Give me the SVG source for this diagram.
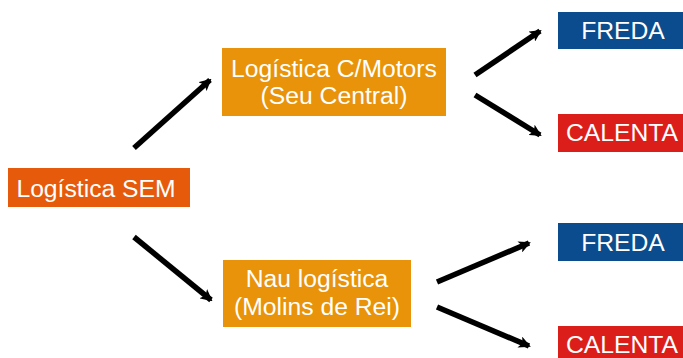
<svg xmlns="http://www.w3.org/2000/svg" width="683" height="358" viewBox="0 0 683 358">
<defs>
<style>
.t{font-family:"Liberation Sans",Arial,sans-serif;font-size:24.7px;fill:#fff}
.c{stroke:#000;stroke-width:5.5;fill:none;marker-end:url(#ah)}
</style>
<marker id="ah" markerUnits="userSpaceOnUse" viewBox="0 0 12 12" refX="10" refY="6" markerWidth="12" markerHeight="12" orient="auto">
<path d="M0,0 L12,6 L0,12 L3,6 Z" fill="#000"/>
</marker>
</defs>
<rect width="683" height="358" fill="#fff"/>
<g id="connectors">
<line class="c" x1="134" y1="148" x2="210" y2="80"/>
<line class="c" x1="134" y1="237" x2="211" y2="300"/>
<line class="c" x1="475" y1="75" x2="540" y2="31"/>
<line class="c" x1="475" y1="95" x2="540" y2="135"/>
<line class="c" x1="437" y1="282" x2="529" y2="243"/>
<line class="c" x1="437" y1="307" x2="529" y2="346"/>
</g>
<g id="sem">
<rect x="8" y="168" width="182" height="39" fill="#E65A0C"/>
<text class="t" x="96" y="197" text-anchor="middle">Logística SEM</text>
</g>
<g id="cmotors">
<rect x="222" y="48" width="224" height="68" fill="#E8930A"/>
<text class="t" x="334" y="77" text-anchor="middle">Logística C/Motors</text>
<text class="t" x="334" y="104" text-anchor="middle">(Seu Central)</text>
</g>
<g id="nau">
<rect x="223" y="260" width="188" height="67" fill="#E8930A"/>
<text class="t" x="317" y="287" text-anchor="middle">Nau logística</text>
<text class="t" x="317" y="315" text-anchor="middle">(Molins de Rei)</text>
</g>
<g id="freda1">
<rect x="558" y="12" width="130" height="37" fill="#0B4C8E"/>
<text class="t" x="623" y="39" text-anchor="middle">FREDA</text>
</g>
<g id="calenta1">
<rect x="558" y="114" width="130" height="38" fill="#DC1E1B"/>
<text class="t" x="566" y="141">CALENTA</text>
</g>
<g id="freda2">
<rect x="558" y="223" width="130" height="38" fill="#0B4C8E"/>
<text class="t" x="623" y="251" text-anchor="middle">FREDA</text>
</g>
<g id="calenta2">
<rect x="558" y="326" width="130" height="40" fill="#DC1E1B"/>
<text class="t" x="566" y="353">CALENTA</text>
</g>
</svg>
